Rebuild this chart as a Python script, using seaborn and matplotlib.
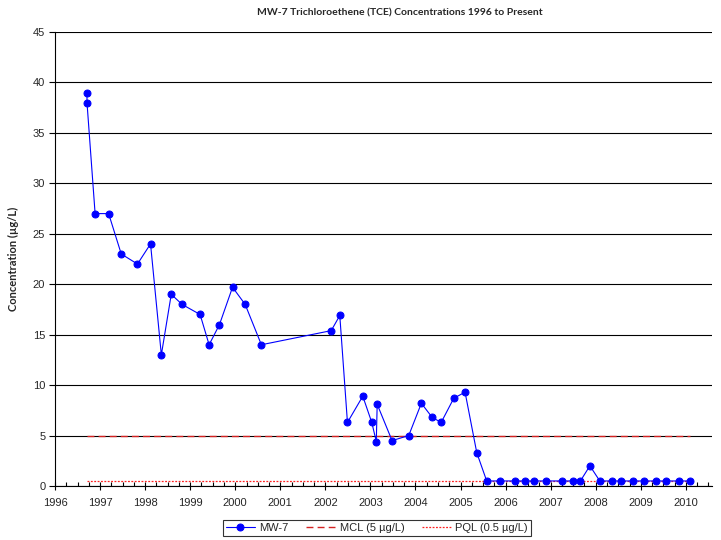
import matplotlib
matplotlib.use("Agg")
import matplotlib.pyplot as plt
from matplotlib.ticker import MultipleLocator
import seaborn as sns
import pandas as pd

# ---- data (decimal years, µg/L) ----
dates = [1996.71, 1996.71, 1996.89, 1997.19, 1997.47, 1997.83, 1998.12, 1998.36,
         1998.58, 1998.82, 1999.22, 1999.42, 1999.65, 1999.94, 2000.22, 2000.58,
         2002.13, 2002.32, 2002.49, 2002.83, 2003.03, 2003.13, 2003.15, 2003.48,
         2003.85, 2004.13, 2004.37, 2004.57, 2004.85, 2005.10, 2005.36, 2005.58,
         2005.87, 2006.21, 2006.43, 2006.63, 2006.90, 2007.25, 2007.49, 2007.66,
         2007.87, 2008.09, 2008.35, 2008.56, 2008.82, 2009.07, 2009.33, 2009.55,
         2009.84, 2010.09]
tce = [39, 38, 27, 27, 23, 22, 24, 13,
       19, 18, 17, 14, 16, 19.7, 18, 14,
       15.4, 16.9, 6.3, 8.9, 6.3, 4.4, 8.1, 4.5,
       5.0, 8.2, 6.8, 6.3, 8.7, 9.3, 3.3, 0.5,
       0.5, 0.5, 0.5, 0.5, 0.5, 0.5, 0.5, 0.5,
       2.0, 0.5, 0.5, 0.5, 0.5, 0.5, 0.5, 0.5,
       0.5, 0.5]
mcl_value = 5.0
pql_value = 0.5
year_ticks = list(range(1996, 2011))
y_ticks = list(range(0, 50, 5))

title = "MW-7 Trichloroethene (TCE) Concentrations 1996 to Present"
ylabel = "Concentration (µg/L)"
series_labels = ["MW-7", "MCL (5 µg/L)", "PQL (0.5 µg/L)"]

df = pd.DataFrame({"date": dates, "tce": tce})
limits_x = [dates[0], dates[-1]]
df_mcl = pd.DataFrame({"date": limits_x, "v": [mcl_value] * 2})
df_pql = pd.DataFrame({"date": limits_x, "v": [pql_value] * 2})

sns.set_style("white")
plt.rcParams["font.family"] = ["Liberation Sans", "DejaVu Sans"]

fig = plt.figure(figsize=(7.21, 5.40), dpi=100)
ax = fig.add_axes([55 / 721, 1 - 486 / 540, (712 - 55) / 721, (486 - 32) / 540])

ax.yaxis.grid(True, color="black", lw=0.8)
ax.set_axisbelow(True)

sns.lineplot(data=df, x="date", y="tce", ax=ax, estimator=None, sort=False,
             color="#0000FF", lw=0.8, marker="o", markersize=5,
             markeredgecolor="#0000FF", label=series_labels[0], zorder=4)
sns.lineplot(data=df_mcl, x="date", y="v", ax=ax, estimator=None, sort=False,
             color="#D42222", lw=1.0, label=series_labels[1], zorder=3,
             dashes=False, linestyle=(0, (5, 3)))
sns.lineplot(data=df_pql, x="date", y="v", ax=ax, estimator=None, sort=False,
             color="#FF2020", lw=0.9, label=series_labels[2], zorder=3,
             dashes=False, linestyle=(0, (1.5, 1.2)))

ax.set_xlim(1996, 2010.58)
ax.set_ylim(0, 45)
ax.set_xticks(year_ticks)
ax.set_xticklabels([str(y) for y in year_ticks], fontsize=8)
ax.xaxis.set_minor_locator(MultipleLocator(0.25))
ax.set_yticks(y_ticks)
ax.set_yticklabels([str(v) for v in y_ticks], fontsize=8)
ax.tick_params(axis="x", which="major", direction="inout", length=6, width=0.8,
               bottom=True, color="black", pad=6)
ax.tick_params(axis="x", which="minor", direction="in", length=3, width=0.8,
               bottom=True, color="black")
ax.tick_params(axis="y", which="major", direction="out", length=4, width=0.8,
               left=True, color="black", pad=3)
for s in ["top", "right"]:
    ax.spines[s].set_visible(False)
for s in ["left", "bottom"]:
    ax.spines[s].set_color("black")
    ax.spines[s].set_linewidth(0.8)

ax.set_xlabel("")
ax.set_ylabel(ylabel, fontsize=8, fontweight="bold", family=["Lato", "DejaVu Sans"],
              labelpad=10)

ax.get_legend().remove()
h, l = ax.get_legend_handles_labels()
leg = fig.legend(h, l, loc="center", bbox_to_anchor=(377 / 721, 1 - 528 / 540),
                 ncol=3, fontsize=8, frameon=True, fancybox=False,
                 edgecolor="black", handlelength=2.6, columnspacing=1.6,
                 borderpad=0.3, handletextpad=0.4, borderaxespad=0)
leg.get_frame().set_linewidth(0.8)

fig.text(400 / 721, 1 - 13 / 540, title, ha="center", va="center", fontsize=7.5,
         fontweight="bold", family=["Lato", "DejaVu Sans"])

fig.savefig("out.png", dpi=100, facecolor="white")
